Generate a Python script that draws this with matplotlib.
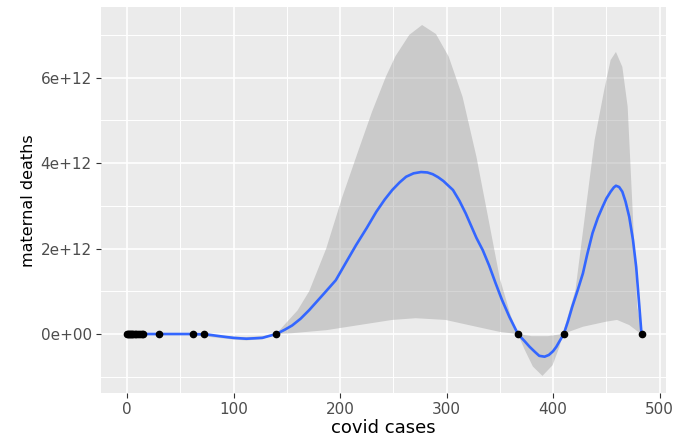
import numpy as np
import matplotlib
matplotlib.use('Agg')
import matplotlib.pyplot as plt

# observed points (covid cases vs maternal deaths)
pts_x = [0, 1, 2, 3, 4, 5, 6, 7, 8, 10, 12, 14, 15, 30, 62, 72, 140, 367, 410, 483]
pts_y = [0, 0, 0, 0, 0, 0, 0, 0, 0, 0, 0, 0, 0, 0, 0, 0, 0, 0, 0, 0]

# smoothed fit (y in units of 1e12)
fit_x = [0, 20, 40, 60, 75, 90, 100, 112, 127, 140, 148, 155, 163, 171, 185, 196, 205, 215,
         225, 234, 242, 249, 256, 262, 269, 276, 282, 287, 292, 297, 306, 312, 318, 328,
         334, 340, 346, 352, 359, 367, 373, 378, 383, 387, 392, 396, 400, 403, 406, 410,
         414, 418, 423, 428, 432, 437, 442, 446.5, 450, 454, 457, 459, 462, 465, 468,
         471.5, 475, 478, 481, 483]
fit_y = [0, 0, 0, 0, -0.01, -0.06, -0.09, -0.11, -0.09, 0, 0.1, 0.2, 0.36, 0.56, 0.95,
         1.26, 1.65, 2.08, 2.48, 2.86, 3.15, 3.37, 3.55, 3.68, 3.76, 3.79, 3.78, 3.74, 3.67,
         3.58, 3.37, 3.12, 2.82, 2.25, 1.96, 1.6, 1.19, 0.8, 0.4, 0, -0.16, -0.3, -0.42,
         -0.51, -0.53, -0.49, -0.4, -0.3, -0.17, 0, 0.3, 0.64, 1.02, 1.42, 1.86, 2.36, 2.72,
         2.98, 3.17, 3.33, 3.43, 3.47, 3.44, 3.33, 3.1, 2.74, 2.2, 1.57, 0.64, 0]

# confidence band edges (units of 1e12)
up_x = [0, 60, 100, 112, 127, 140, 149, 160, 171, 187, 202, 218, 230, 243, 252, 265, 277,
        290, 302, 315, 328, 340, 350, 360, 367, 380, 395, 409, 421, 431, 439, 448, 454,
        459, 465, 470, 473, 476, 479, 483]
up_y = [0.02, 0.02, -0.06, -0.07, -0.05, 0, 0.25, 0.55, 1.0, 2.0, 3.2, 4.35, 5.2, 6.02,
        6.5, 7.0, 7.23, 7.02, 6.49, 5.55, 4.15, 2.6, 1.3, 0.45, 0, -0.05, -0.05, 0, 1.03,
        2.98, 4.54, 5.71, 6.41, 6.6, 6.25, 5.32, 3.76, 2.2, 0.64, 0.1]
lo_x = [0, 60, 100, 112, 127, 140, 155, 187, 218, 249, 271, 299, 328, 350, 367, 373, 381,
        390, 399.5, 406, 409, 428, 450, 460, 471.5, 481, 483]
lo_y = [-0.02, -0.02, -0.13, -0.15, -0.12, 0, 0.02, 0.09, 0.21, 0.33, 0.37, 0.33, 0.17,
        0.05, 0, -0.35, -0.76, -0.98, -0.73, -0.3, 0, 0.17, 0.29, 0.33, 0.21, 0.03, 0]

xticks = [0, 100, 200, 300, 400, 500]
yticks = [0, 2e12, 4e12, 6e12]
ytick_labels = ['0e+00', '2e+12', '4e+12', '6e+12']

scale = 1e12

fig = plt.figure(figsize=(6.73, 4.36), dpi=100)
ax = fig.add_axes([0.150, 0.0986, 0.8396, 0.8842])
ax.set_facecolor('#EBEBEB')

band_x = up_x + lo_x[::-1]
band_y = [v * scale for v in up_y] + [v * scale for v in lo_y[::-1]]
ax.fill(band_x, band_y, color='#999999', alpha=0.4, lw=0, zorder=2)
ax.plot(fit_x, [v * scale for v in fit_y], color='#3366FF', lw=1.9, zorder=3)
ax.plot(pts_x, pts_y, 'o', color='black', ms=4.5, zorder=4)

ax.set_xlim(-24.5, 506)
ax.set_ylim(-1.38e12, 7.64e12)
ax.set_xticks(xticks)
ax.set_xticks([50, 150, 250, 350, 450], minor=True)
ax.set_yticks(yticks)
ax.set_yticklabels(ytick_labels)
ax.set_yticks([-1e12, 1e12, 3e12, 5e12, 7e12], minor=True)
ax.grid(which='major', color='white', lw=1.2, zorder=1)
ax.grid(which='minor', color='white', lw=0.7, zorder=1)
ax.set_axisbelow(True)
for s in ax.spines.values():
    s.set_visible(False)
ax.tick_params(which='major', length=3.6, width=0.8, color='#333333',
               labelcolor='#4D4D4D', labelsize=11, pad=3)
ax.tick_params(which='minor', length=0)

ax.set_xlabel('covid cases', fontsize=13, labelpad=1)
ax.set_ylabel('maternal deaths', fontsize=11.5, labelpad=3)

fig.savefig('out.png', dpi=100)
